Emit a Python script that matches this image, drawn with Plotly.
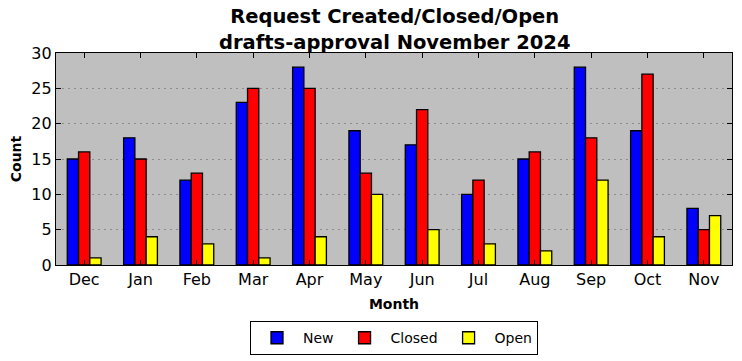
import plotly.graph_objects as go

months = ["Dec", "Jan", "Feb", "Mar", "Apr", "May", "Jun", "Jul", "Aug", "Sep", "Oct", "Nov"]
new_vals = [15, 18, 12, 23, 28, 19, 17, 10, 15, 28, 19, 8]
closed_vals = [16, 15, 13, 25, 25, 13, 22, 12, 16, 18, 27, 5]
open_vals = [1, 4, 3, 1, 4, 10, 5, 3, 2, 12, 4, 7]
y_ticks = [0, 5, 10, 15, 20, 25, 30]

FONT = "DejaVu Sans, sans-serif"

fig = go.Figure()
for name, vals, color in [("New", new_vals, "#0000ff"),
                          ("Closed", closed_vals, "#ff0000"),
                          ("Open", open_vals, "#ffff00")]:
    fig.add_trace(go.Bar(x=months, y=vals, name=name,
                         marker=dict(color=color, line=dict(color="black", width=1.3))))

fig.update_layout(
    width=742, height=361,
    margin=dict(l=56, r=10, t=53, b=96, autoexpand=False),
    paper_bgcolor="white",
    plot_bgcolor="#bfbfbf",
    barmode="group",
    bargap=0.4,
    bargroupgap=0,
    font=dict(family=FONT, color="black", size=16),
    title=dict(text="<b>Request Created/Closed/Open<br>drafts-approval November 2024</b>",
               x=0.532, xanchor="center", xref="container",
               y=0.935, yanchor="top", yref="container",
               font=dict(size=19.5, family=FONT)),
    legend=dict(orientation="h", x=0.5, xanchor="center", y=-0.345, yanchor="middle",
                bordercolor="black", borderwidth=1, bgcolor="white",
                font=dict(size=14, family=FONT), itemwidth=42, traceorder="normal"),
    xaxis=dict(
        range=[-0.5, 11.5], showline=True, linecolor="black", linewidth=1.3, mirror="ticks",
        ticks="inside", ticklen=5, tickcolor="black", tickfont=dict(size=16),
        title=dict(text="<b>Month</b>", font=dict(size=14), standoff=10),
        showgrid=False, automargin=False,
    ),
    yaxis=dict(
        range=[0, 30], tickvals=y_ticks, showline=True, linecolor="black", linewidth=1.3,
        mirror="ticks", ticks="inside", ticklen=5, tickcolor="black", tickfont=dict(size=16),
        title=dict(text="<b>Count</b>", font=dict(size=14), standoff=6),
        showgrid=True, gridcolor="#8c8c8c", griddash="2px,4px", gridwidth=1,
        zeroline=False, automargin=False,
    ),
)

fig.write_html("out.html", config={"displayModeBar": False},
               post_script="document.body.style.margin='0';")
